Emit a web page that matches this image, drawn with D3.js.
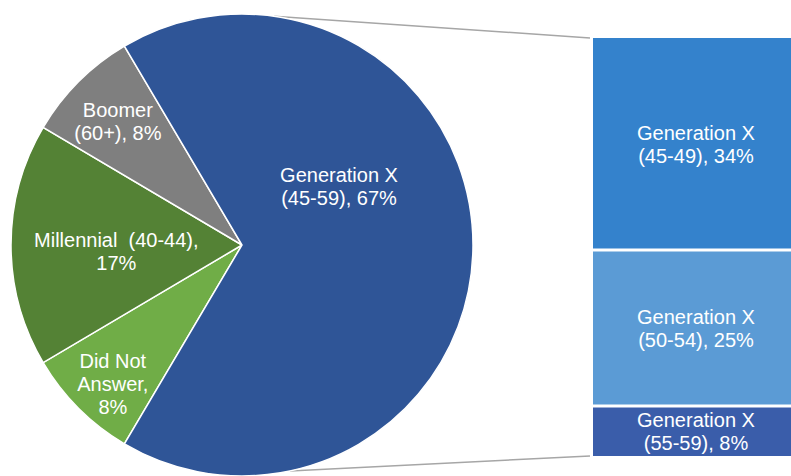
<!DOCTYPE html>
<html lang="en">
<head>
    <meta charset="UTF-8">
    <title>Generation pie of bar</title>
    <script src="https://d3js.org/d3.v7.min.js"></script>
    <style>
        body { margin: 0; background: #fff; }
        svg text { font-family: "Liberation Sans", Arial, sans-serif; font-size: 20px; fill: #fff; white-space: pre; }
    </style>
</head>
<body>
    <div id="grafico"></div>
    <script>
        // dados do grafico principal (pizza)
        const pieNames = ["Did Not Answer", "Millennial (40-44)", "Boomer (60+)", "Generation X (45-59)"];
        const pieValues = [8, 17, 8, 67];
        const pieColors = ["#70AD47", "#548235", "#7F7F7F", "#2F5597"];
        const pieLines = [["Did Not", "Answer,", "{v}%"], ["Millennial  (40-44),", "{v}%"], ["Boomer", "(60+), {v}%"], ["Generation X", "(45-59), {v}%"]];

        // dados da barra secundaria (Generation X detalhada)
        const barNames = ["Generation X (45-49)", "Generation X (50-54)", "Generation X (55-59)"];
        const barValues = [34, 25, 8];
        const barColors = ["#3482CC", "#5B9BD5", "#3A5DAA"];
        const barLines = [["Generation X", "(45-49), {v}%"], ["Generation X", "(50-54), {v}%"], ["Generation X", "(55-59), {v}%"]];

        const width = 791, height = 476;
        const cx = 242, cy = 245, r = 231;
        const lineH = 23, capH = 14.3;

        // ajuste fino da posicao dos rotulos: [fracao do raio, desvio do angulo em graus]
        const labelPlace = [[0.82, -2], [0.545, -3], [0.76, 0], [0.49, -31]];

        const svg = d3.select("#grafico").append("svg")
            .attr("width", width)
            .attr("height", height);

        // barra: escala vertical
        const barTop = 38, barBottom = 456, barX = 593, barW = 206;
        const total = d3.sum(barValues);
        const y = d3.scaleLinear().domain([0, total]).range([barTop, barBottom]);
        const cum = d3.cumsum(barValues);
        const starts = barValues.map((v, i) => cum[i] - v);

        // linhas de conexao (desenhadas antes da pizza)
        const aTop = 8 * Math.PI / 180, aBot = 168 * Math.PI / 180;
        const conn = [[cx + r * Math.sin(aTop), cy - r * Math.cos(aTop), barX - 3, y(0)],
                      [cx + r * Math.sin(aBot), cy - r * Math.cos(aBot), barX - 3, y(total)]];
        svg.selectAll(".conn").data(conn).enter().append("line")
            .attr("x1", d => d[0]).attr("y1", d => d[1])
            .attr("x2", d => d[2]).attr("y2", d => d[3])
            .attr("stroke", "#A6A6A6").attr("stroke-width", 1.5);

        // pizza
        const share = pieValues[3] / d3.sum(pieValues);
        const start = Math.PI / 2 + share * Math.PI - 2 * Math.PI;
        const pie = d3.pie().sort(null).value(d => d).startAngle(start).endAngle(start + 2 * Math.PI);
        const arcs = pie(pieValues);
        const arc = d3.arc().innerRadius(0).outerRadius(r);

        const g = svg.append("g").attr("transform", `translate(${cx},${cy})`);
        g.selectAll("path").data(arcs).enter().append("path")
            .attr("d", arc)
            .attr("fill", (d, i) => pieColors[i])
            .attr("stroke", "#fff")
            .attr("stroke-width", 1.5);

        function writeLines(sel, lines, x, yc) {
            const first = yc - ((lines.length - 1) * lineH - capH) / 2;
            const t = sel.append("text").attr("text-anchor", "middle");
            lines.forEach((s, k) => {
                t.append("tspan").attr("x", x).attr("y", first + k * lineH).text(s);
            });
        }

        arcs.forEach((d, i) => {
            const mid = (d.startAngle + d.endAngle) / 2 + labelPlace[i][1] * Math.PI / 180;
            const rr = r * labelPlace[i][0];
            const lines = pieLines[i].map(s => s.replace("{v}", pieValues[i]));
            writeLines(g, lines, rr * Math.sin(mid), -rr * Math.cos(mid));
        });

        // barra empilhada
        svg.selectAll(".seg").data(barValues).enter().append("rect")
            .attr("class", "seg")
            .attr("x", barX)
            .attr("y", (d, i) => y(starts[i]))
            .attr("width", barW)
            .attr("height", d => y(d) - y(0))
            .attr("fill", (d, i) => barColors[i]);

        // separadores brancos entre os segmentos
        svg.selectAll(".sep").data(starts.slice(1)).enter().append("line")
            .attr("x1", barX).attr("x2", barX + barW)
            .attr("y1", d => y(d)).attr("y2", d => y(d))
            .attr("stroke", "#fff").attr("stroke-width", 3);

        barValues.forEach((v, i) => {
            const lines = barLines[i].map(s => s.replace("{v}", v));
            writeLines(svg, lines, barX + barW / 2, (y(starts[i]) + y(cum[i])) / 2);
        });
    </script>
</body>
</html>
